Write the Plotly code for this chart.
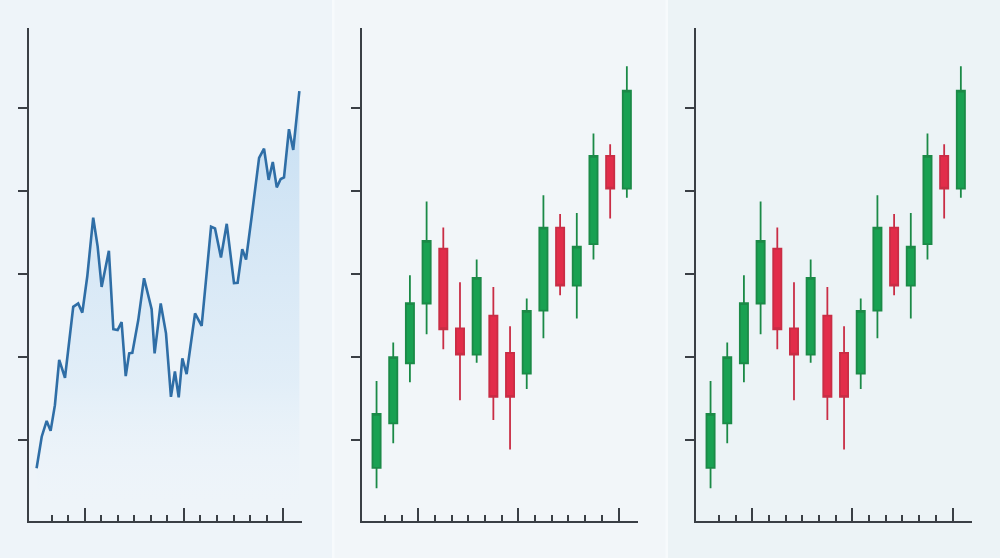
import plotly.graph_objects as go

# ---------------- data ----------------
# Panel 1: price line (x in tick units, y in value units)
line_x = [0.07, 0.38, 0.68, 0.92, 1.18, 1.44, 1.79, 2.29, 2.59, 2.84, 3.14, 3.50, 3.77,
          4.01, 4.45, 4.72, 4.98, 5.22, 5.47, 5.68, 5.87, 6.23, 6.58, 7.04, 7.22, 7.59,
          7.91, 8.21, 8.45, 8.68, 8.90, 9.16, 9.67, 10.07, 10.64, 10.88, 11.24, 11.59,
          12.03, 12.25, 12.53, 12.76, 13.10, 13.55, 13.85, 14.13, 14.38, 14.62, 14.86,
          15.06, 15.36, 15.62, 15.99]
line_y = [13.2, 20.8, 24.6, 22.2, 28.4, 39.3, 35.0, 52.1, 52.9, 50.7, 59.4, 73.6, 66.6,
          56.9, 65.6, 46.7, 46.5, 48.4, 35.4, 40.9, 41.0, 48.9, 59.0, 51.5, 40.9, 52.9,
          45.7, 30.4, 36.5, 30.3, 39.7, 35.9, 50.5, 47.5, 71.4, 71.0, 64.0, 72.1, 57.8,
          57.9, 66.0, 63.5, 73.8, 88.0, 90.2, 82.7, 87.0, 80.9, 82.9, 83.3, 94.9, 89.9,
          104.1]

# Panels 2 and 3: candlesticks
candle_x = [0.5, 1.5, 2.5, 3.5, 4.5, 5.5, 6.5, 7.5, 8.5, 9.5, 10.5, 11.5, 12.5, 13.5, 14.5, 15.5]
candle_open = [13.3, 24.0, 38.5, 52.9, 66.1, 46.9, 40.6, 50.0, 41.0, 36.0, 51.2, 71.2, 57.2, 67.2, 88.5, 80.6]
candle_high = [34.2, 43.5, 59.7, 77.5, 71.2, 58.0, 63.5, 56.9, 47.4, 54.1, 79.0, 74.5, 74.7, 93.9, 91.3, 110.1]
candle_low = [8.4, 19.2, 33.9, 45.5, 41.9, 29.6, 38.6, 24.8, 17.7, 32.3, 44.5, 54.9, 49.3, 63.5, 73.4, 78.4]
candle_close = [26.3, 40.0, 53.0, 68.0, 46.7, 40.6, 59.1, 30.4, 30.4, 51.1, 71.2, 57.2, 66.6, 88.5, 80.6, 104.2]

# axis ticks (no labels)
y_ticks = [20, 40, 60, 80, 100]
x_major_ticks = [3, 9, 15]
x_minor_ticks = [1, 2, 4, 5, 6, 7, 8, 10, 11, 12, 13, 14]

# ---------------- style ----------------
AXIS = "#3a3f45"
X_RANGE = [-0.39, 16.15]
Y_RANGE = [0.48, 119.3]
LINE_BLUE = "#2f6ea6"
GREEN_FILL = "#19a152"
GREEN_LINE = "#1b8a47"
RED_FILL = "#e22d4a"
RED_LINE = "#c92d45"

fig = go.Figure()

fig.add_trace(go.Scatter(
    x=line_x, y=line_y, mode="lines",
    line=dict(color=LINE_BLUE, width=2.6),
    fill="tozeroy",
    fillgradient=dict(type="vertical", start=4, stop=104,
                      colorscale=[[0, "rgba(236,244,250,0)"],
                                  [0.3, "rgba(220,235,247,0.7)"],
                                  [1, "rgba(196,221,242,0.95)"]]),
    xaxis="x", yaxis="y", showlegend=False, hoverinfo="skip"))

for xa, ya in (("x2", "y2"), ("x3", "y3")):
    fig.add_trace(go.Candlestick(
        x=candle_x, open=candle_open, high=candle_high, low=candle_low, close=candle_close,
        increasing=dict(fillcolor=GREEN_FILL, line=dict(color=GREEN_LINE, width=1.8)),
        decreasing=dict(fillcolor=RED_FILL, line=dict(color=RED_LINE, width=1.8)),
        xaxis=xa, yaxis=ya, showlegend=False, hoverinfo="skip"))

domains = [[0.029, 0.302], [0.3617, 0.6377], [0.6957, 0.9717]]
layout = dict(
    width=1000, height=558,
    margin=dict(l=0, r=0, t=28, b=37),
    paper_bgcolor="#f7fafc",
    plot_bgcolor="rgba(0,0,0,0)",
    showlegend=False,
    hovermode=False,
    shapes=[
        dict(type="rect", xref="paper", yref="paper", x0=-0.05, x1=0.332, y0=-0.1, y1=1.1,
             fillcolor="#eef4f9", line=dict(width=0), layer="below"),
        dict(type="rect", xref="paper", yref="paper", x0=0.3345, x1=0.6655, y0=-0.1, y1=1.1,
             fillcolor="#f2f6f9", line=dict(width=0), layer="below"),
        dict(type="rect", xref="paper", yref="paper", x0=0.668, x1=1.05, y0=-0.1, y1=1.1,
             fillcolor="#ecf3f6", line=dict(width=0), layer="below"),
    ],
)

for i, dom in enumerate(domains):
    xs = "" if i == 0 else str(i + 1)
    ys_main = "" if i == 0 else str(i + 1)
    ys_over = str(i + 4)
    xa = dict(
        domain=dom, range=X_RANGE, anchor="y" + ys_main,
        showline=True, linecolor=AXIS, linewidth=2,
        tickvals=x_major_ticks, ticks="inside", ticklen=13, tickwidth=2, tickcolor=AXIS,
        minor=dict(tickvals=x_minor_ticks, ticks="inside", ticklen=6, tickwidth=2,
                   tickcolor=AXIS, showgrid=False),
        showticklabels=False, showgrid=False, zeroline=False, fixedrange=True,
    )
    if i > 0:
        xa["rangeslider"] = dict(visible=False)
    layout["xaxis" + xs] = xa
    layout["yaxis" + ys_main] = dict(
        domain=[0, 1], range=Y_RANGE, anchor="x" + xs,
        showline=True, linecolor=AXIS, linewidth=2,
        tickvals=y_ticks, ticks="outside", ticklen=9, tickwidth=2, tickcolor=AXIS,
        showticklabels=False, showgrid=False, zeroline=False, fixedrange=True,
    )
    layout["yaxis" + ys_over] = dict(
        overlaying="y" + ys_main, anchor="x" + xs, side="left", range=Y_RANGE,
        showline=False, tickvals=y_ticks, ticks="inside", ticklen=8, tickwidth=2,
        tickcolor=AXIS, showticklabels=False, showgrid=False, zeroline=False,
        fixedrange=True,
    )

fig.update_layout(**layout)
fig.write_html("out.html", config={"displayModeBar": False},
               post_script="document.body.style.margin='0px';document.body.style.background='#f7fafc';")
